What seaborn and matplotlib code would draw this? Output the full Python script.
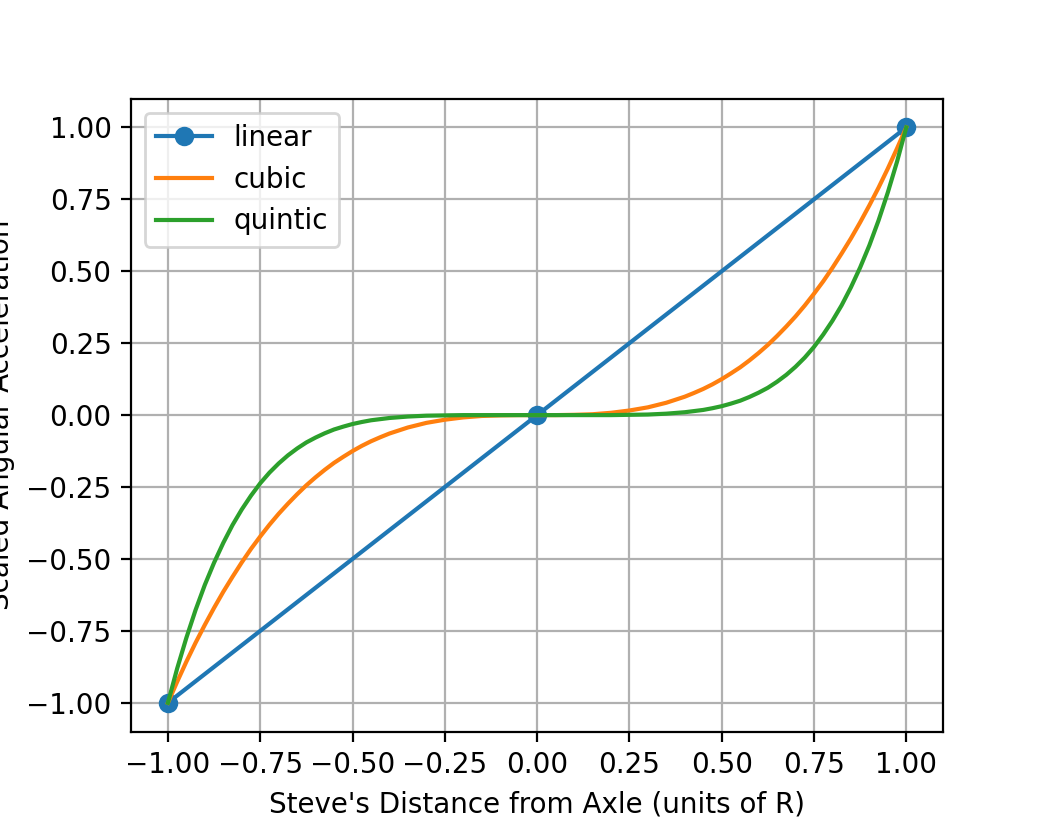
import matplotlib
matplotlib.use("Agg")
import matplotlib.pyplot as plt
import seaborn as sns

# linear
lin_x = [-1.0, 0.0, 1.0]
lin_y = [-1.0, 0.0, 1.0]

# sampled positions for the smooth curves (denser where they are steep)
curve_x = [-1.000, -0.975, -0.950, -0.925, -0.900, -0.875, -0.850, -0.825, -0.800,
           -0.775, -0.750, -0.725, -0.700, -0.675, -0.650, -0.625, -0.600, -0.575,
           -0.550, -0.525, -0.500, -0.475, -0.450, -0.425, -0.400,
           -0.35, -0.30, -0.25, -0.20, -0.15, -0.10, -0.05, 0.00,
           0.05, 0.10, 0.15, 0.20, 0.25, 0.30, 0.35,
           0.400, 0.425, 0.450, 0.475, 0.500, 0.525, 0.550, 0.575, 0.600,
           0.625, 0.650, 0.675, 0.700, 0.725, 0.750, 0.775, 0.800, 0.825,
           0.850, 0.875, 0.900, 0.925, 0.950, 0.975, 1.000]
cubic_y = [-1.000, -0.927, -0.857, -0.791, -0.729, -0.670, -0.614, -0.562, -0.512,
           -0.465, -0.422, -0.381, -0.343, -0.308, -0.275, -0.244, -0.216, -0.190,
           -0.166, -0.145, -0.125, -0.107, -0.091, -0.077, -0.064,
           -0.043, -0.027, -0.016, -0.008, -0.003, -0.001, -0.000, 0.000,
           0.000, 0.001, 0.003, 0.008, 0.016, 0.027, 0.043,
           0.064, 0.077, 0.091, 0.107, 0.125, 0.145, 0.166, 0.190, 0.216,
           0.244, 0.275, 0.308, 0.343, 0.381, 0.422, 0.465, 0.512, 0.562,
           0.614, 0.670, 0.729, 0.791, 0.857, 0.927, 1.000]
quintic_y = [-1.000, -0.881, -0.774, -0.677, -0.590, -0.513, -0.444, -0.382, -0.328,
             -0.280, -0.237, -0.200, -0.168, -0.140, -0.116, -0.095, -0.078, -0.063,
             -0.050, -0.040, -0.031, -0.024, -0.018, -0.014, -0.010,
             -0.005, -0.002, -0.001, -0.000, -0.000, -0.000, -0.000, 0.000,
             0.000, 0.000, 0.000, 0.000, 0.001, 0.002, 0.005,
             0.010, 0.014, 0.018, 0.024, 0.031, 0.040, 0.050, 0.063, 0.078,
             0.095, 0.116, 0.140, 0.168, 0.200, 0.237, 0.280, 0.328, 0.382,
             0.444, 0.513, 0.590, 0.677, 0.774, 0.881, 1.000]

ticks = [-1.00, -0.75, -0.50, -0.25, 0.00, 0.25, 0.50, 0.75, 1.00]

fig, ax = plt.subplots(figsize=(5.24, 4.11), dpi=200)
fig.subplots_adjust(left=0.125, right=0.9, bottom=0.11, top=0.88)

sns.lineplot(x=lin_x, y=lin_y, ax=ax, label="linear", color="C0", marker="o",
             markersize=6, markeredgecolor="C0", markeredgewidth=1.0,
             linewidth=1.5, sort=False, estimator=None)
sns.lineplot(x=curve_x, y=cubic_y, ax=ax, label="cubic", color="C1",
             linewidth=1.5, sort=False, estimator=None)
sns.lineplot(x=curve_x, y=quintic_y, ax=ax, label="quintic", color="C2",
             linewidth=1.5, sort=False, estimator=None)

ax.set_xticks(ticks)
ax.set_yticks(ticks)
ax.set_xlim(-1.1, 1.1)
ax.set_ylim(-1.1, 1.1)
ax.grid(True, color="#b0b0b0", linewidth=0.8)
ax.set_axisbelow(True)
ax.set_xlabel("Steve's Distance from Axle (units of R)")
ax.set_ylabel("Scaled Angular Acceleration")
ax.legend(loc="upper left")

fig.savefig("out.png", dpi=200)
